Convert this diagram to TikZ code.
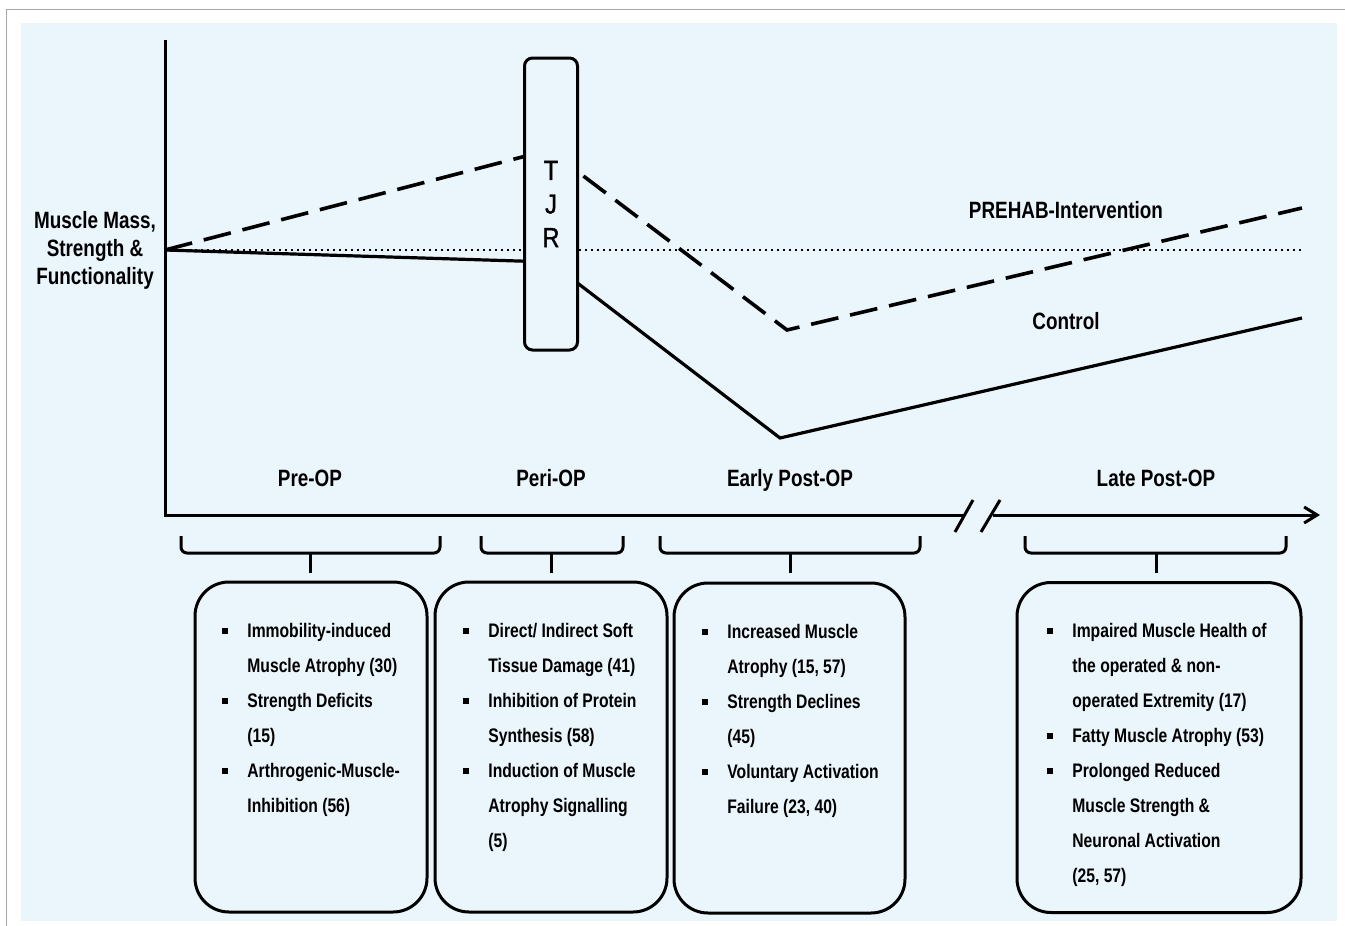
\documentclass[tikz,border=0pt]{standalone}
\usepackage{fontspec}
\setmainfont{Liberation Sans}[FakeStretch=0.8]
\newfontfamily\tjrfont{Liberation Sans}[FakeStretch=0.85, FakeBold=1.2]
\usepackage{xcolor}
\usetikzlibrary{arrows.meta}
\definecolor{panel}{RGB}{235,245,252}
\newcommand{\bul}{\makebox[12.5pt][l]{\rule[2pt]{3pt}{3pt}}}
\newcommand{\skipbul}{\hspace*{12.5pt}}

\begin{document}
\begin{tikzpicture}[x=0.5pt, y=-0.5pt,
  axis/.style={line width=1.5pt},
  ctrl/.style={line width=1.6pt},
  prehab/.style={line width=1.8pt, dash pattern=on 14pt off 6pt},
  refline/.style={line width=1.1pt, dash pattern=on 1.2pt off 1.8pt},
  tjrbox/.style={draw, line width=1.5pt, rounded corners=4pt, fill=panel,
              minimum width=26.5pt, minimum height=146pt, align=center,
              font=\tjrfont\fontsize{13.8}{16.8}\selectfont},
  lbl/.style={align=center, font=\bfseries\fontsize{11.8}{14}\selectfont},
  phase/.style={lbl, text height=8.5pt, text depth=2.5pt},
  phasebox/.style={draw, line width=1.5pt, rounded corners=17pt,
              minimum width=116pt, minimum height=165pt},
  itemlist/.style={anchor=north west, inner sep=0pt, align=left,
              font=\bfseries\fontsize{9.8}{17.5}\selectfont},
  brace/.style={line width=1.5pt, rounded corners=3pt}]
\useasboundingbox (0,0) rectangle (1345,926);
\fill[panel] (21,23) rectangle (1337,921);
\draw[black!35, line width=0.5pt] (6,926) |- (1345,9);
% axes
\coordinate (ytop) at (165,40);
\coordinate (start) at (165,250);
\coordinate (brk1) at (964,515);
\coordinate (brk2) at (993,515);
\coordinate (xend) at (1320,515);
\draw[axis] (ytop) |- (brk1);
\draw[axis, -{Straight Barb[length=6.5pt, width=8pt]}] (brk2) -- (xend);
\draw[axis] (955,532) -- (973,500);
\draw[axis] (981,532) -- (1000,500);
% curves
\coordinate (dpeak) at (549,150);
\coordinate (dlow) at (787,330);
\coordinate (dend) at (1302,208);
\coordinate (cpeak) at (550,262);
\coordinate (clow) at (780,438);
\coordinate (cend) at (1302,318);
\draw[refline] (start) -- (1302,250);
\draw[prehab] (start) -- (dpeak) -- (dlow) -- (dend);
\draw[ctrl] (start) -- (cpeak) -- (clow) -- (cend);
\node[tjrbox] (tjr) at (551,204) {\raisebox{-2pt}{T}\\\raisebox{-2pt}{J}\\\raisebox{-2pt}{R}};
% labels
\node[lbl] (yaxis) at (95,250) {Muscle Mass,\\Strength \&\\Functionality};
\node[lbl] (prehablbl) at (1066,210) {PREHAB-Intervention};
\node[lbl] (ctrllbl) at (1066,321) {Control};
\node[phase] (pre) at (310,480) {Pre-OP};
\node[phase] (peri) at (551,480) {Peri-OP};
\node[phase] (early) at (790,480) {Early Post-OP};
\node[phase] (late) at (1156,480) {Late Post-OP};
% braces
\foreach \l/\r/\m in {181/440/310, 481/623/551, 660/920/790, 1025/1286/1156} {
  \draw[brace] (\l,536) -- (\l,553) -- (\r,553) -- (\r,536);
  \draw[axis] (\m,553) -- (\m,573);
}
% boxes
\node[phasebox] (prebox) at (311,747) {};
\node[phasebox] (peribox) at (551,747) {};
\node[phasebox, minimum width=115.5pt] (earlybox) at (789.5,748) {};
\node[phasebox, minimum width=142pt] (latebox) at (1159,747.5) {};
\node[itemlist] (prelist) at (222,623) {\bul Immobility-induced\\
  \skipbul Muscle Atrophy (30)\\
  \bul Strength Deficits\\
  \skipbul (15)\\
  \bul Arthrogenic-Muscle-\\
  \skipbul Inhibition (56)};
\node[itemlist] (perilist) at (463,623) {\bul Direct/ Indirect Soft\\
  \skipbul Tissue Damage (41)\\
  \bul Inhibition of Protein\\
  \skipbul Synthesis (58)\\
  \bul Induction of Muscle\\
  \skipbul Atrophy Signalling\\
  \skipbul (5)};
\node[itemlist] (earlylist) at (702,624) {\bul Increased Muscle\\
  \skipbul Atrophy (15, 57)\\
  \bul Strength Declines\\
  \skipbul (45)\\
  \bul Voluntary Activation\\
  \skipbul Failure (23, 40)};
\node[itemlist] (latelist) at (1047,623) {\bul Impaired Muscle Health of\\
  \skipbul the operated \& non-\\
  \skipbul operated Extremity (17)\\
  \bul Fatty Muscle Atrophy (53)\\
  \bul Prolonged Reduced\\
  \skipbul Muscle Strength \&\\
  \skipbul Neuronal Activation\\
  \skipbul (25, 57)};
\end{tikzpicture}
\end{document}
